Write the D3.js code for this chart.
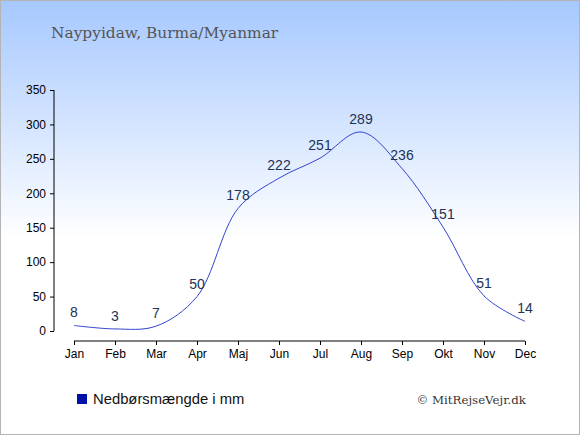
<!DOCTYPE html>
<html>
<head>
<meta charset="utf-8">
<script src="https://cdn.jsdelivr.net/npm/d3@7"></script>
<style>
    body { margin: 0; padding: 0; background: #fff; }
    svg { display: block; }
</style>
</head>
<body>
<div id="chart"></div>
<script>

/* Data -------------------------------------------------------------------- */

const months = ["Jan", "Feb", "Mar", "Apr", "Maj", "Jun",
    "Jul", "Aug", "Sep", "Okt", "Nov", "Dec"];
const rainfall = [8, 3, 7, 50, 178, 222, 251, 289, 236, 151, 51, 14];
const yTicks = [0, 50, 100, 150, 200, 250, 300, 350];

const titleText = "Naypyidaw, Burma/Myanmar";
const legendText = "Nedbørsmængde i mm";
const creditText = "© MitRejseVejr.dk";

/* Draw graphic ------------------------------------------------------------ */

function drawGraphic() {

    const width = 580;
    const height = 435;

    const svg = d3.select("#chart")
        .append("svg")
        .attr("width", width)
        .attr("height", height);

    // Background gradient
    const grad = svg.append("defs")
        .append("linearGradient")
        .attr("id", "bg")
        .attr("x1", 0).attr("y1", 0)
        .attr("x2", 0).attr("y2", 1);

    grad.append("stop").attr("offset", "0%").attr("stop-color", "#a6c8ff");
    grad.append("stop").attr("offset", "55%").attr("stop-color", "#ffffff");
    grad.append("stop").attr("offset", "100%").attr("stop-color", "#ffffff");

    svg.append("rect")
        .attr("x", 0.5)
        .attr("y", 0.5)
        .attr("width", width - 1)
        .attr("height", height - 1)
        .attr("fill", "url(#bg)")
        .attr("stroke", "#b4b4b4")
        .attr("stroke-width", 1);

    // Title
    svg.append("text")
        .attr("x", 51)
        .attr("y", 38)
        .style("font-family", "'DejaVu Serif', Georgia, serif")
        .style("font-size", "15.4px")
        .style("fill", "#555555")
        .text(titleText);

    // Scales
    const x = d3.scalePoint()
        .domain(months)
        .range([74, 525]);

    const y = d3.scaleLinear()
        .domain([0, 350])
        .range([331, 90]);

    // Y axis
    const yAxis = svg.append("g")
        .attr("transform", "translate(54,0)")
        .call(d3.axisLeft(y).tickValues(yTicks).tickSize(4).tickPadding(4));

    yAxis.select(".domain")
        .attr("d", `M0,${y(350)}V${y(0)}`)
        .attr("stroke", "#000");

    yAxis.selectAll("text")
        .style("font-family", "Arial, 'Liberation Sans', sans-serif")
        .style("font-size", "12px")
        .style("fill", "#000");

    // X axis
    const xAxis = svg.append("g")
        .attr("transform", "translate(0,341)")
        .call(d3.axisBottom(x).tickSize(4).tickPadding(4));

    xAxis.select(".domain")
        .attr("d", `M${x("Jan")},0H${x("Dec")}`)
        .attr("stroke", "#000");

    xAxis.selectAll("text")
        .style("font-family", "Arial, 'Liberation Sans', sans-serif")
        .style("font-size", "12px")
        .style("fill", "#000");

    // Line
    const line = d3.line()
        .x((d, i) => x(months[i]))
        .y(d => y(d))
        .curve(d3.curveCatmullRom.alpha(0.5));

    svg.append("path")
        .datum(rainfall)
        .attr("d", line)
        .attr("fill", "none")
        .attr("stroke", "#3344cc")
        .attr("stroke-width", 1);

    // Value labels
    svg.selectAll(".value-label")
        .data(rainfall)
        .enter()
        .append("text")
        .attr("class", "value-label")
        .attr("x", (d, i) => x(months[i]))
        .attr("y", d => y(d) - 8)
        .attr("text-anchor", "middle")
        .style("font-family", "Arial, 'Liberation Sans', sans-serif")
        .style("font-size", "14px")
        .style("fill", "#223355")
        .text(d => d);

    // Legend
    svg.append("rect")
        .attr("x", 77)
        .attr("y", 394)
        .attr("width", 10)
        .attr("height", 10)
        .attr("fill", "#0011aa");

    svg.append("text")
        .attr("x", 93)
        .attr("y", 404)
        .style("font-family", "Arial, 'Liberation Sans', sans-serif")
        .style("font-size", "14.8px")
        .style("fill", "#111")
        .text(legendText);

    // Credit
    svg.append("text")
        .attr("x", 526)
        .attr("y", 404)
        .attr("text-anchor", "end")
        .style("font-family", "'DejaVu Serif', Georgia, serif")
        .style("font-size", "11.8px")
        .style("fill", "#333")
        .text(creditText);
}

drawGraphic();
</script>
</body>
</html>
